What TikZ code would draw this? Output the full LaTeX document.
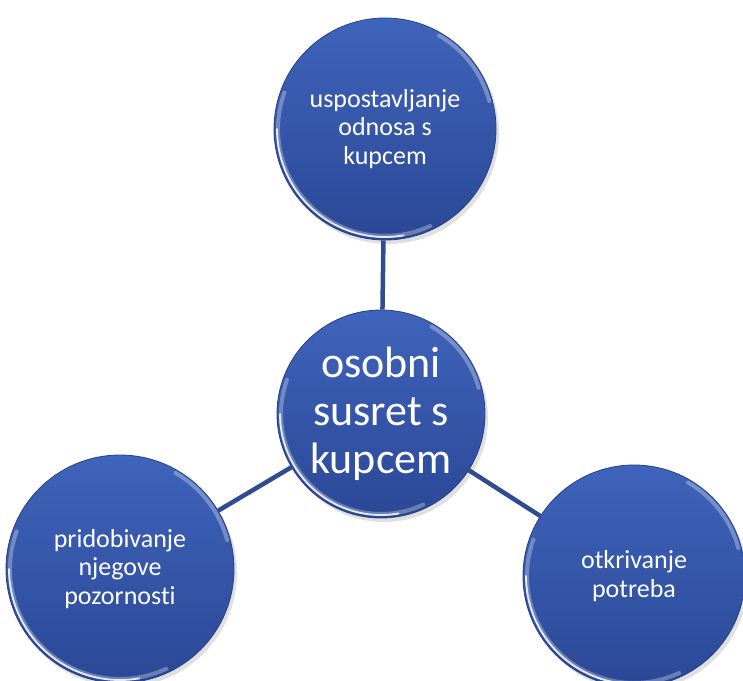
\documentclass[tikz,border=0pt]{standalone}
\usepackage{fontspec}
\setmainfont{Carlito}[Ligatures={NoCommon}]
\usetikzlibrary{calc}
\definecolor{bubtop}{HTML}{3F64BB}
\definecolor{bubbot}{HTML}{2B4896}
\definecolor{bubedge}{HTML}{26418A}
\definecolor{linkc}{HTML}{2F4D8E}
\tikzset{
  bubble/.style={circle, inner sep=0pt, top color=bubtop, bottom color=bubbot,
    draw=bubedge, line width=0.8pt, text=white, align=center},
  smalltxt/.style={font=\fontsize{26}{28.5}\selectfont},
  bigtxt/.style={font=\fontsize{44}{48}\selectfont},
  link/.style={draw=linkc, line width=4.5pt},
  gloss/.style={white, line width=1.8pt, opacity=.85, line cap=round},
  glossfaint/.style={white, line width=4pt, opacity=.3, line cap=round},
  shadowc/.style={fill=black, opacity=.12},
}
\begin{document}
\begin{tikzpicture}[x=1pt,y=-1pt]
\useasboundingbox (0,0) rectangle (743,680);
% soft shadows
\fill[shadowc] (388,133) circle[radius=111pt];
\fill[shadowc] (384,418) circle[radius=104pt];
\fill[shadowc] (123,573) circle[radius=114pt];
\fill[shadowc] (637,580) circle[radius=111pt];
% bubbles
\node[bubble, smalltxt, minimum size=222pt] (T) at (385,129) {uspostavljanje\\odnosa s\\kupcem};
\node[bubble, bigtxt, minimum size=208pt] (C) at (381,414) {osobni\\susret s\\kupcem};
\node[bubble, smalltxt, minimum size=228pt] (L) at (120,569) {pridobivanje\\njegove\\pozornosti};
\node[bubble, smalltxt, minimum size=222pt] (R) at (634,576) {otkrivanje\\potreba};
% connectors
\draw[link] (T) -- (C);
\draw[link] (C) -- (L);
\draw[link] (C) -- (R);
% gloss highlights
\foreach \n/\r in {T/111, C/104, L/114, R/111}{
  \draw[glossfaint] ([shift={(160:\r pt-4pt)}]\n.center) arc[start angle=160, end angle=295, radius=\r pt-4pt];
  \draw[gloss] ([shift={(180:\r pt-3pt)}]\n.center) arc[start angle=180, end angle=280, radius=\r pt-3pt];
  \draw[glossfaint] ([shift={(15:\r pt-3pt)}]\n.center) arc[start angle=15, end angle=60, radius=\r pt-3pt];
}
\end{tikzpicture}
\end{document}
